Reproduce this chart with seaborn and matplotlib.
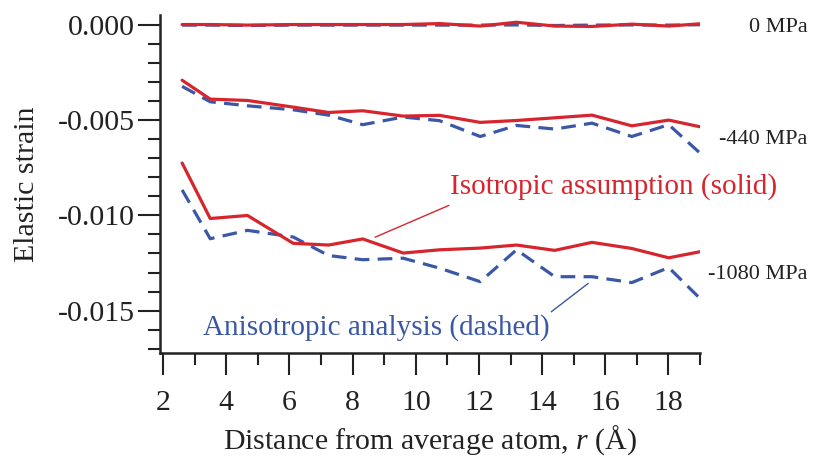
import numpy as np
import pandas as pd
import matplotlib
matplotlib.use("Agg")
import matplotlib.pyplot as plt
from matplotlib.ticker import FixedLocator, FixedFormatter
import seaborn as sns

# ---- data ----
r = [2.6, 3.49, 4.67, 6.12, 7.24, 8.32, 9.60, 10.75, 12.04, 13.19, 14.40, 15.58, 16.84, 18.01, 19.0]

iso_0 = [0.0, 0.0, -0.00003, 0.0, 0.0, 0.0, 0.0, 0.00005, -0.00008, 0.00012, -0.00008, -0.0001, 0.00002, -0.00008, 0.00004]
aniso_0 = [-0.00003, -0.00003, -0.00005, -0.00003, -0.00003, -0.00003, -0.00003, -0.00003, -0.00003, -0.00002, -0.00005, -0.00003, -0.00002, -0.00003, -0.00001]

iso_440 = [-0.00292, -0.00391, -0.00398, -0.00433, -0.00461, -0.00452, -0.00480, -0.00476, -0.00513, -0.00503, -0.00489, -0.00475, -0.00531, -0.00501, -0.00536]
aniso_440 = [-0.00324, -0.00405, -0.00426, -0.00447, -0.00475, -0.00525, -0.00485, -0.00504, -0.00587, -0.00529, -0.00548, -0.00517, -0.00587, -0.00525, -0.00674]

iso_1080 = [-0.00726, -0.01017, -0.01001, -0.01147, -0.01156, -0.01124, -0.01198, -0.01181, -0.01172, -0.01156, -0.01184, -0.01142, -0.01174, -0.01223, -0.01191]
aniso_1080 = [-0.00867, -0.01123, -0.01079, -0.01114, -0.01211, -0.01233, -0.01225, -0.01277, -0.01348, -0.01181, -0.01322, -0.01322, -0.01353, -0.01274, -0.01436]

pressure_labels = ["0 MPa", "-440 MPa", "-1080 MPa"]
pressure_label_y = [0.0, -0.00592, -0.01298]
y_ticks = [0.0, -0.005, -0.010, -0.015]
y_tick_labels = ["0.000", "-0.005", "-0.010", "-0.015"]
x_ticks = [2, 4, 6, 8, 10, 12, 14, 16, 18]

RED = "#d7252e"
BLUE = "#3b58a6"
INK = "#222222"

rows = []
for model, series in [("Isotropic", [iso_0, iso_440, iso_1080]),
                      ("Anisotropic", [aniso_0, aniso_440, aniso_1080])]:
    for p, vals in zip(pressure_labels, series):
        for x, v in zip(r, vals):
            rows.append({"r": x, "strain": v, "model": model, "pressure": p})
df = pd.DataFrame(rows)

sns.set_style("ticks")
plt.rcParams["font.family"] = ["Liberation Serif", "DejaVu Serif"]
plt.rcParams["mathtext.fontset"] = "custom"
plt.rcParams["mathtext.it"] = "Liberation Serif:italic"
plt.rcParams["mathtext.rm"] = "Liberation Serif"

fig = plt.figure(figsize=(8.14, 4.59), dpi=100)
ax = fig.add_axes([160 / 814, 1 - 353 / 459, (700 - 160) / 814, (353 - 15) / 459])

sns.lineplot(data=df, x="r", y="strain", hue="model", style="model", units="pressure",
             estimator=None, sort=False, legend=False, ax=ax,
             palette={"Isotropic": RED, "Anisotropic": BLUE},
             dashes={"Isotropic": "", "Anisotropic": (4.6, 2.6)},
             hue_order=["Anisotropic", "Isotropic"],
             linewidth=2.3)

ax.set_xlim(1.9, 19.0)
ax.set_ylim(-0.01722, 0.0005)

for s in ["top", "right"]:
    ax.spines[s].set_visible(False)
for s in ["left", "bottom"]:
    ax.spines[s].set_linewidth(1.8)
    ax.spines[s].set_color(INK)

ax.yaxis.set_major_locator(FixedLocator(y_ticks))
ax.yaxis.set_major_formatter(FixedFormatter(y_tick_labels))
ax.yaxis.set_minor_locator(FixedLocator([-0.001 * k for k in range(0, 18)]))
ax.xaxis.set_major_locator(FixedLocator(x_ticks))
ax.xaxis.set_minor_locator(FixedLocator(list(range(3, 20, 2))))

ax.tick_params(axis="both", which="major", direction="out", length=16, width=1.5,
               color=INK, labelsize=21.5, labelcolor=INK)
ax.tick_params(axis="both", which="minor", direction="out", length=8.5, width=1.5, color=INK)
ax.tick_params(axis="y", which="major", pad=2)
ax.tick_params(axis="x", which="major", pad=11)

ax.set_xlabel(r"Distance from average atom, $r$ (Å)", fontsize=21.5, color=INK, labelpad=5)
ax.set_ylabel("Elastic strain", fontsize=21.5, color=INK, labelpad=13)

# annotations
ax.text(16.27, -0.00848, "Isotropic assumption (solid)", color=RED, fontsize=21,
        ha="center", va="center")
ax.plot([8.71, 11.05], [-0.01115, -0.00948], color=RED, lw=1.0)
ax.text(8.74, -0.01586, "Anisotropic analysis (dashed)", color=BLUE, fontsize=21,
        ha="center", va="center")
ax.plot([14.29, 15.46], [-0.01506, -0.01357], color=BLUE, lw=1.0)

for lab, yv in zip(pressure_labels, pressure_label_y):
    ax.text(22.41, yv, lab, fontsize=16, ha="right", va="center_baseline", color=INK, clip_on=False)

fig.savefig("out.png", dpi=100)
